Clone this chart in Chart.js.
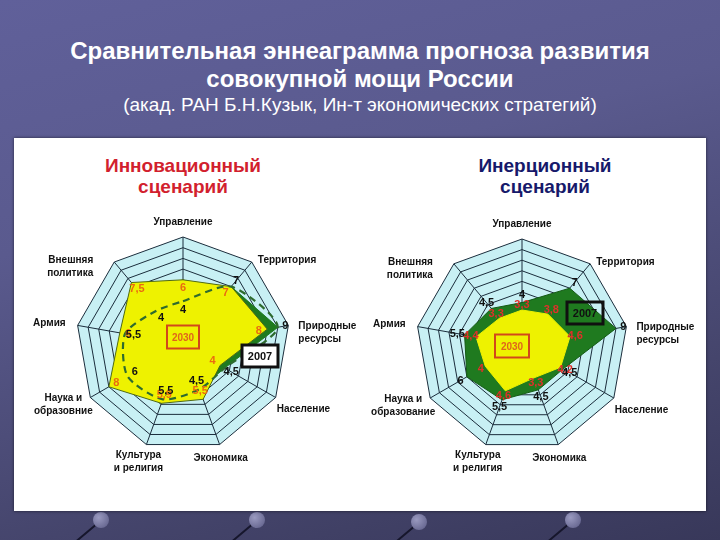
<!DOCTYPE html>
<html lang="ru">
<head>
<meta charset="UTF-8">
<title>Сравнительная эннеаграмма</title>
<script src="https://cdn.jsdelivr.net/npm/chart.js"></script>
<style>
  html, body { margin: 0; padding: 0; }
  body {
    width: 720px; height: 540px; overflow: hidden; position: relative;
    background: linear-gradient(165deg, #60609a 0%, #5a5a8e 35%, #45456c 75%, #38385a 100%);
    font-family: Arial, "Liberation Sans", sans-serif;
  }
  .title { position: absolute; left: 0; width: 720px; text-align: center; color: #fff; }
  #t1 { top: 37px; font-size: 24px; font-weight: bold; }
  #t2 { top: 65px; font-size: 24px; font-weight: bold; }
  #t3 { top: 94px; font-size: 19px; }
  #panel {
    position: absolute; left: 14px; top: 138px; width: 692px; height: 373px;
    background: #fff; box-shadow: 0 0 3px rgba(0,0,0,0.6);
  }
  .cap { position: absolute; width: 240px; text-align: center; font-weight: bold; font-size: 19px; line-height: 21px; }
  #capL { left: 63px; top: 155px; color: #d21f2e; }
  #capR { left: 425px; top: 155px; color: #16196a; }
  canvas { position: absolute; }
  .pin { position: absolute; width: 16px; height: 16px; border-radius: 50%;
    background: radial-gradient(circle at 35% 35%, #9a9ac0, #5a5a84); }
  .stick { position: absolute; width: 2px; height: 40px; background: #16162c; transform-origin: top left; transform: rotate(50deg); }
</style>
</head>
<body>
<div class="title" id="t1">Сравнительная эннеаграмма прогноза развития</div>
<div class="title" id="t2">совокупной мощи России</div>
<div class="title" id="t3">(акад. РАН Б.Н.Кузык, Ин-т экономических стратегий)</div>

<div class="stick" style="left:100px;top:520px"></div><div class="pin" style="left:93px;top:512px"></div>
<div class="stick" style="left:256px;top:520px"></div><div class="pin" style="left:249px;top:512px"></div>
<div class="stick" style="left:418px;top:522px"></div><div class="pin" style="left:411px;top:514px"></div>
<div class="stick" style="left:572px;top:520px"></div><div class="pin" style="left:565px;top:512px"></div>

<div id="panel"></div>
<div class="cap" id="capL">Инновационный<br>сценарий</div>
<div class="cap" id="capR">Инерционный<br>сценарий</div>

<canvas id="innov" width="350" height="270" style="left:8px;top:209px"></canvas>
<canvas id="inert" width="350" height="270" style="left:347px;top:210px"></canvas>

<script>
// axes, clockwise from the top
const axesInnov = ['Управление', 'Территория', ['Природные', 'ресурсы'], 'Население', 'Экономика',
  ['Культура', 'и религия'], ['Наука и', 'образовние'], 'Армия', ['Внешняя', 'политика']];
const axesInert = ['Управление', 'Территория', ['Природные', 'ресурсы'], 'Население', 'Экономика',
  ['Культура', 'и религия'], ['Наука и', 'образование'], 'Армия', ['Внешняя', 'политика']];

// 2007 baseline and the two 2030 scenarios
const base2007 = [4, 7, 9, 4.5, 4.5, 5.5, 6, 5.5, 4];
const inertBase2007 = [4, 7, 9, 4.5, 4.5, 5.5, 6, 5.5, 4.5];
const innov2030 = [6, 7, 8, 4, 5.5, 5.9, 8, 6, 7.5];
const inert2030 = [3.3, 3.8, 4.6, 4.2, 3.3, 4.6, 4, 4.4, 3.3];

const GREEN = '#1f7a1f';
const YELLOW = '#eef200';

// where each axis caption sits relative to the outer vertex
const captionPlace = [
  { align: 'center', dx: 0, dy: -15 },
  { align: 'left', dx: 6, dy: -2 },
  { align: 'left', dx: 10, dy: 1 },
  { align: 'left', dx: 1, dy: 12 },
  { align: 'center', dx: 1, dy: 14 },
  { align: 'center', dx: -8, dy: 11 },
  { align: 'center', dx: -27, dy: 1 },
  { align: 'right', dx: -12, dy: -2 },
  { align: 'right', dx: -21, dy: -2 }
];

function fmt(v) { return String(v).replace('.', ','); }

const axisCaptions = {
  id: 'axisCaptions',
  afterDraw(chart) {
    const r = chart.scales.r;
    const ctx = chart.ctx;
    ctx.save();
    ctx.font = 'bold 10px Arial';
    ctx.fillStyle = '#111';
    ctx.textBaseline = 'middle';
    chart.data.labels.forEach((lab, i) => {
      const p = r.getPointPosition(i, r.drawingArea);
      const pl = captionPlace[i];
      const lines = Array.isArray(lab) ? lab : [lab];
      ctx.textAlign = pl.align;
      lines.forEach((t, k) => ctx.fillText(t, p.x + pl.dx, p.y + pl.dy + k * 13));
    });
    ctx.restore();
  }
};

// numbers at the vertices + the "2030"/"2007" frames
function labelPlugin(sets, boxes) {
  return {
    id: 'valueLabels',
    afterDatasetsDraw(chart) {
      const r = chart.scales.r;
      const ctx = chart.ctx;
      ctx.save();
      ctx.textAlign = 'center';
      ctx.textBaseline = 'middle';
      sets.forEach(s => {
        ctx.font = s.font;
        ctx.fillStyle = s.color;
        s.values.forEach((v, i) => {
          const out = s.other ? v >= s.other[i] : false;
          const p = r.getPointPositionForValue(i, v + (out ? s.out : s.inn));
          ctx.fillText(fmt(v), p.x, p.y);
        });
      });
      boxes.forEach(b => {
        const x = r.xCenter + b.dx, y = r.yCenter + b.dy;
        ctx.lineWidth = b.lw;
        ctx.strokeStyle = b.stroke;
        if (b.fill) { ctx.fillStyle = b.fill; ctx.fillRect(x - b.w / 2, y - b.h / 2, b.w, b.h); }
        ctx.strokeRect(x - b.w / 2, y - b.h / 2, b.w, b.h);
        ctx.font = b.font;
        ctx.fillStyle = b.color;
        ctx.fillText(b.text, x, y + 1);
      });
      ctx.restore();
    }
  };
}

function scaleOpts() {
  return {
    r: {
      min: 0, max: 10,
      backgroundColor: '#c8f0f4',
      ticks: { display: false, stepSize: 1 },
      grid: { color: '#1b2d3c', lineWidth: 1 },
      angleLines: { color: '#1b2d3c', lineWidth: 1 },
      pointLabels: { display: false }
    }
  };
}

function baseOptions(pad) {
  return {
    responsive: false,
    animation: false,
    layout: { padding: pad },
    elements: { point: { radius: 0 }, line: { borderJoinStyle: 'miter' } },
    plugins: { legend: { display: false }, tooltip: { enabled: false } },
    scales: scaleOpts()
  };
}

new Chart(document.getElementById('innov'), {
  type: 'radar',
  data: {
    labels: axesInnov,
    datasets: [
      { label: '2007 (контур)', data: base2007, order: 0, fill: false, borderColor: '#2e6b2e',
        borderWidth: 2.2, borderDash: [7, 5], tension: 0.25 },
      { label: '2030', data: innov2030, order: 1, fill: true, backgroundColor: YELLOW,
        borderColor: '#4f6a14', borderWidth: 1 },
      { label: '2007', data: base2007, order: 2, fill: true, backgroundColor: GREEN,
        borderColor: GREEN, borderWidth: 1 }
    ]
  },
  options: baseOptions(28),
  plugins: [axisCaptions, labelPlugin([
    { values: innov2030, color: '#ea6a10', font: 'bold 11px Arial', inn: -0.8 },
    { values: base2007, other: innov2030, color: '#111', font: 'bold 11px Arial', inn: -0.8, out: 0.7 }
  ], [
    { text: '2030', dx: 0, dy: -7, w: 32, h: 23, lw: 2, stroke: '#d2481a', color: '#e0661a', font: 'bold 10px Arial' },
    { text: '2007', dx: 77, dy: 12, w: 36, h: 22, lw: 3, stroke: '#101010', fill: '#fff', color: '#111', font: 'bold 11px Arial' }
  ])]
});

new Chart(document.getElementById('inert'), {
  type: 'radar',
  data: {
    labels: axesInert,
    datasets: [
      { label: '2030', data: inert2030, order: 0, fill: true, backgroundColor: YELLOW,
        borderColor: YELLOW, borderWidth: 1 },
      { label: '2007', data: inertBase2007, order: 1, fill: true, backgroundColor: GREEN,
        borderColor: '#155a15', borderWidth: 1 }
    ]
  },
  options: baseOptions(29),
  plugins: [axisCaptions, labelPlugin([
    { values: inert2030, color: '#e0302a', font: 'bold 11px Arial', inn: 0.5 },
    { values: inertBase2007, other: inert2030, color: '#111', font: 'bold 11px Arial', inn: 0.7, out: 0.7 }
  ], [
    { text: '2030', dx: -10, dy: 1, w: 34, h: 23, lw: 2, stroke: '#d2481a', color: '#e0661a', font: 'bold 10px Arial' },
    { text: '2007', dx: 63, dy: -32, w: 36, h: 22, lw: 3, stroke: '#101010', color: '#111', font: 'bold 11px Arial' }
  ])]
});
</script>
</body>
</html>
